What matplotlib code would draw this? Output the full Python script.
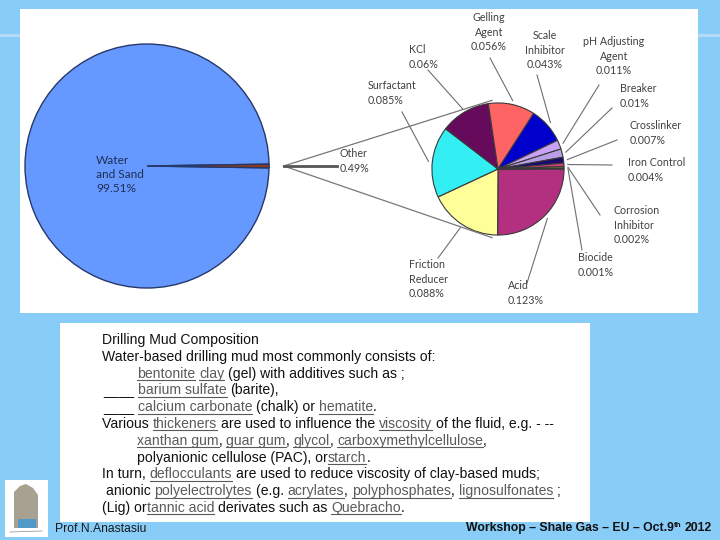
import matplotlib
matplotlib.use('Agg')
import matplotlib.pyplot as plt
from matplotlib.patches import Rectangle, Polygon
from matplotlib.font_manager import FontProperties
import numpy as np

# --- data ---
outer_labels = ['Water\nand Sand\n99.51%', 'Other\n0.49%']
outer_values = [99.51, 0.49]
outer_colors = ['#6699FF', '#8B3A1A']

other_names = ['Acid', 'Friction\nReducer', 'Surfactant', 'KCl', 'Gelling\nAgent',
               'Scale\nInhibitor', 'pH Adjusting\nAgent', 'Breaker', 'Crosslinker',
               'Iron Control', 'Corrosion\nInhibitor', 'Biocide']
other_values = [0.123, 0.088, 0.085, 0.06, 0.056, 0.043, 0.011, 0.01, 0.007, 0.004, 0.002, 0.001]
other_pct = ['0.123%', '0.088%', '0.085%', '0.06%', '0.056%', '0.043%', '0.011%',
             '0.01%', '0.007%', '0.004%', '0.002%', '0.001%']
other_colors = ['#B2307F', '#FFFF99', '#33EEF2', '#660A5C', '#FF6464', '#0000CC',
                '#C9A2F5', '#B9A0E6', '#1A0A70', '#D0407A', '#D09A40', '#9A9A9A']

# label text anchor (image px) / where its leader line starts
label_pos = [(508, 280, 'left'), (409, 259, 'left'), (368, 80, 'left'), (409, 44, 'left'),
             (489, 12, 'center'), (545, 30, 'center'), (614, 36, 'center'), (620, 83, 'left'),
             (630, 120, 'left'), (628, 157, 'left'), (614, 205, 'left'), (578, 252, 'left')]
line_start = [(527, 283), (438, 258), (402, 112), (428, 70), (490, 58), (537, 75),
              (599, 85), (612, 108), (617, 140), (612, 165), (600, 215), (582, 250)]

body_lines = [
    (102, [("Drilling Mud Composition", 0)]),
    (102, [("Water-based drilling mud most commonly consists of:", 0)]),
    (137, [("bentonite", 1), (" ", 0), ("clay", 1), (" (gel) with additives such as ;", 0)]),
    (103, [("____ ", 0), ("barium sulfate", 1), (" (barite),", 0)]),
    (103, [("____ ", 0), ("calcium carbonate", 1), (" (chalk) or ", 0), ("hematite", 1), (".", 0)]),
    (102, [("Various ", 0), ("thickeners", 1), (" are used to influence the ", 0), ("viscosity", 1),
           (" of the fluid, e.g. - --", 0)]),
    (137, [("xanthan gum", 1), (", ", 0), ("guar gum", 1), (", ", 0), ("glycol", 1), (", ", 0),
           ("carboxymethylcellulose", 1), (",", 0)]),
    (137, [("polyanionic cellulose (PAC), or", 0), ("starch", 1), (".", 0)]),
    (102, [("In turn, ", 0), ("deflocculants", 1), (" are used to reduce viscosity of clay-based muds;", 0)]),
    (102, [(" anionic ", 0), ("polyelectrolytes", 1), (" (e.g. ", 0), ("acrylates", 1), (", ", 0),
           ("polyphosphates", 1), (", ", 0), ("lignosulfonates", 1), (" ;", 0)]),
    (102, [("(Lig) or", 0), ("tannic acid", 1), (" derivates such as ", 0), ("Quebracho", 1), (".", 0)]),
]

H = 540
def Y(y):
    return H - y

fig = plt.figure(figsize=(7.2, 5.4), dpi=100)
fig.patch.set_facecolor('#88CCF8')
ax = fig.add_axes([0, 0, 1, 1])
renderer = fig.canvas.get_renderer()

def adv(s, fp):
    if not s:
        return 0.0
    a = renderer.get_text_width_height_descent(s + 'x', fp, ismath=False)[0]
    b = renderer.get_text_width_height_descent('x', fp, ismath=False)[0]
    return a - b

# slide decoration
for x0, x1 in [(0, 20), (698, 720)]:
    ax.plot([x0, x1], [Y(35), Y(35)], color='#B5DCF6', lw=2, zorder=0)
ax.add_patch(Rectangle((20, Y(313)), 678, 304, fc='white', ec='none', zorder=0))
ax.add_patch(Rectangle((60, Y(522)), 530, 199, fc='white', ec='none', zorder=0))

lab_font = dict(family=['Lato', 'DejaVu Sans'], fontsize=7.7, color='#404040')

# big pie
c1 = (147, Y(166))
r1 = 122
start1 = outer_values[1] / sum(outer_values) * 360 / 2
w1, _ = ax.pie(outer_values, colors=outer_colors, center=c1, radius=r1, startangle=start1,
               explode=[0, 0.12], wedgeprops=dict(edgecolor='#26386A', linewidth=1))
tw = w1[1]
tmid = np.deg2rad((tw.theta1 + tw.theta2) / 2)
tip = (c1[0] + r1 * 1.12 * np.cos(tmid), c1[1] + r1 * 1.12 * np.sin(tmid))
ax.text(96, Y(155), outer_labels[0], ha='left', va='top', linespacing=1.35,
        family=['Lato', 'DejaVu Sans'], fontsize=8.6, color='#1F2F55')
ax.text(340, Y(148), outer_labels[1], ha='left', va='top', linespacing=1.4, **lab_font)
ax.plot([tip[0], 337], [tip[1], tip[1]], color='#555555', lw=2)

# breakdown pie
c2 = (498, Y(169))
r2 = 66
ex = 0.06
w2, _ = ax.pie(other_values, colors=other_colors, center=c2, radius=r2, startangle=0,
               counterclock=False, explode=[ex] * len(other_values),
               wedgeprops=dict(edgecolor='#3A3A3A', linewidth=0.8))

# zoom lines from "Other" slice to the breakdown pie
for sgn in (1, -1):
    ax.plot([tip[0], c2[0] - 6], [tip[1], c2[1] + sgn * r2 * 1.04], color='#777777', lw=0.9, zorder=1)

for w, name, pct, (lx, ly, ha), (sx, sy) in zip(w2, other_names, other_pct, label_pos, line_start):
    m = np.deg2rad((w.theta1 + w.theta2) / 2)
    px = c2[0] + r2 * (1 + ex) * np.cos(m)
    py = c2[1] + r2 * (1 + ex) * np.sin(m)
    ax.plot([sx, px], [Y(sy), py], color='#6E6E6E', lw=0.8, zorder=3)
    ax.text(lx, Y(ly), name + '\n' + pct, ha=ha, va='top', linespacing=1.4, **lab_font)

# body text with underlined links
fp = FontProperties(family=['Liberation Sans'], size=10.1)
base0 = 344
step = 16.8
for i, (x0, segs) in enumerate(body_lines):
    yb = Y(base0 + i * step)
    prefix = ''
    for txt, link in segs:
        stripped = txt.lstrip(' ')
        lead = txt[:len(txt) - len(stripped)]
        xs = x0 + adv(prefix + lead, fp)
        col = '#5A5A5A' if link else '#111111'
        ax.text(xs, yb, stripped, ha='left', va='baseline', fontproperties=fp, color=col)
        if link:
            ax.plot([xs, xs + adv(stripped.rstrip(), fp)], [yb - 2.3, yb - 2.3], color=col, lw=0.8)
        prefix += txt

# footer
ax.add_patch(Rectangle((5, Y(537)), 43, 57, fc='white', ec='none'))
ax.add_patch(Polygon([(14, Y(528)), (14, Y(492)), (20, Y(486)), (26, Y(484)), (33, Y(488)),
                      (38, Y(495)), (38, Y(528))], closed=True, fc='#A8A090', ec='none'))
ax.add_patch(Rectangle((18, Y(528)), 18, 9, fc='#4F9AC8', ec='none'))
ax.plot([10, 42], [Y(532), Y(531)], color='#888888', lw=0.5)

narrow = ['Liberation Sans Narrow', 'Liberation Sans']
ax.text(55, Y(532), 'Prof.N.Anastasiu', ha='left', va='baseline', fontsize=8.7,
        family=narrow, color='#1A1A1A')
fpb = FontProperties(family=narrow, weight='bold', size=8.8)
fps = FontProperties(family=narrow, weight='bold', size=5.8)
parts = [('Workshop \u2013 Shale Gas \u2013 EU \u2013 Oct.9', fpb, 0), ('th', fps, 4), (' 2012', fpb, 0)]
widths = [adv(t, f) for t, f, _ in parts]
x = 712 - sum(widths)
for (t, f, dy), wd in zip(parts, widths):
    s = t.lstrip(' ')
    ax.text(x + adv(t[:len(t) - len(s)], f), Y(531) + dy, s, ha='left', va='baseline',
            fontproperties=f, color='#111111')
    x += wd

ax.set_xlim(0, 720)
ax.set_ylim(0, 540)
ax.set_aspect('equal')
ax.axis('off')

fig.savefig('out.png', dpi=100, facecolor=fig.get_facecolor())
